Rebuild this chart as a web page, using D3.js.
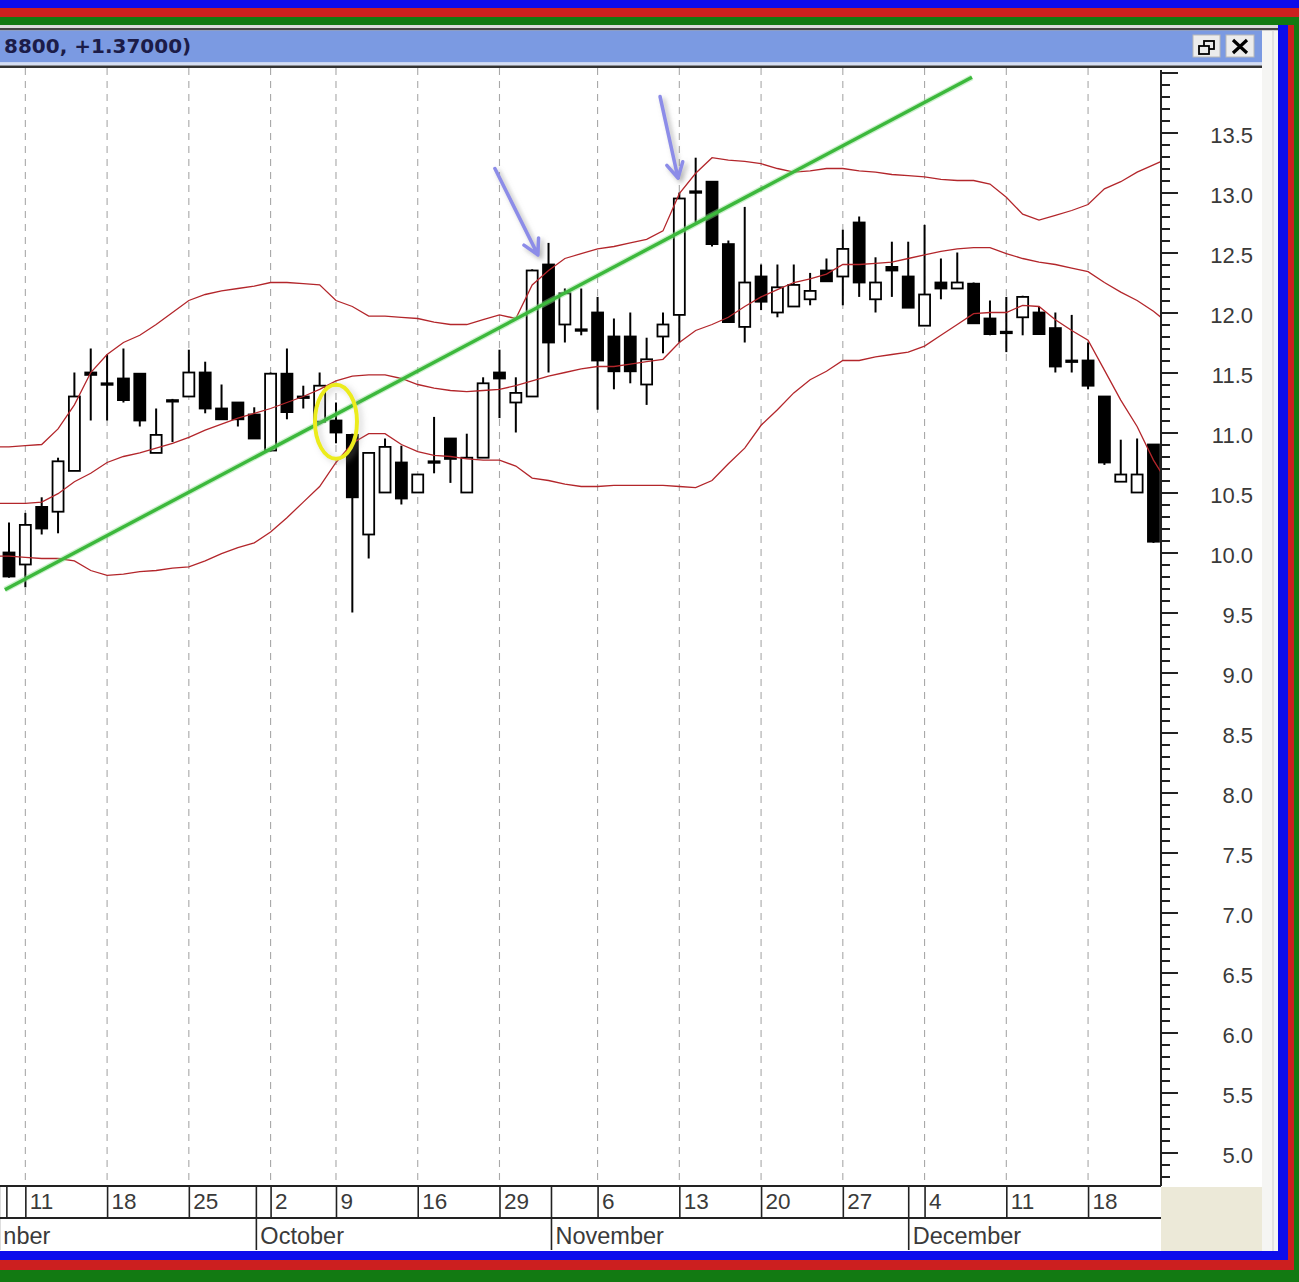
<!DOCTYPE html>
<html><head><meta charset="utf-8">
<script src="https://cdn.jsdelivr.net/npm/d3@7"></script>
<style>html,body{margin:0;padding:0;background:#fff;overflow:hidden}</style>
</head><body>
<svg id="c" width="1299" height="1282" xmlns="http://www.w3.org/2000/svg"></svg>
<script>
// ---------------- data ----------------
const opens  = [10.00,9.90,10.38,10.34,10.68,11.50,11.41,11.45,11.49,10.83,
  11.27,11.30,11.50,11.20,11.25,11.15,10.85,11.49,11.30,11.09,
  11.10,10.98,10.15,10.50,10.75,10.50,10.76,10.95,10.50,10.79,
  11.50,11.25,11.30,12.40,11.90,11.86,12.00,11.80,11.80,11.40,
  11.80,11.98,13.01,13.09,12.57,11.88,12.30,12.00,12.05,12.11,
  12.35,12.30,12.75,12.11,12.38,12.30,11.89,12.25,12.20,12.24,
  11.95,11.84,11.96,12.00,11.87,11.60,11.60,11.30,10.59,10.50,
  10.90];
const highs  = [10.25,10.33,10.46,10.79,11.50,11.70,11.65,11.70,11.49,11.20,
  11.28,11.69,11.59,11.40,11.25,11.21,11.50,11.70,11.39,11.50,
  11.25,10.99,10.83,10.95,10.89,10.65,11.13,10.95,10.99,11.46,
  11.69,11.46,12.36,12.58,12.20,12.20,12.13,11.95,12.00,11.79,
  12.00,13.00,13.29,13.09,12.60,12.88,12.40,12.40,12.40,12.33,
  12.45,12.69,12.80,12.46,12.59,12.59,12.73,12.45,12.50,12.25,
  12.10,12.13,12.14,12.05,12.00,11.98,11.75,11.30,10.94,10.95,
  10.90];
const lows   = [9.79,9.71,10.15,10.16,10.68,11.10,11.10,11.25,11.05,10.83,
  10.92,11.30,11.16,11.11,11.05,10.95,10.84,11.11,11.20,11.09,
  10.91,9.50,9.95,10.50,10.40,10.50,10.66,10.58,10.50,10.79,
  11.12,11.00,11.30,11.50,11.75,11.81,11.19,11.36,11.41,11.23,
  11.66,11.75,12.75,12.55,11.92,11.75,12.02,11.96,12.05,12.06,
  12.26,12.06,12.13,12.00,12.13,12.04,11.89,12.11,12.20,11.91,
  11.81,11.67,11.81,11.82,11.50,11.50,11.36,10.73,10.59,10.50,
  10.08];
const closes = [9.80,10.23,10.20,10.76,11.30,11.48,11.40,11.27,11.10,10.98,
  11.26,11.50,11.20,11.11,11.11,10.95,11.49,11.17,11.29,11.39,
  11.00,10.46,10.83,10.88,10.45,10.65,10.75,10.78,10.79,11.41,
  11.45,11.33,12.35,11.75,12.16,11.85,11.60,11.51,11.51,11.61,
  11.90,12.95,13.00,12.57,11.92,12.25,12.09,12.21,12.23,12.18,
  12.26,12.53,12.25,12.25,12.35,12.04,12.15,12.20,12.25,11.91,
  11.82,11.83,12.13,11.82,11.55,11.59,11.39,10.75,10.65,10.65,
  10.09];
// Bollinger bands, one value per bar, starting one bar before the first visible candle
const bandStartIndex = -1;
const upperBand = [10.88,
  10.88,10.89,10.90,11.03,11.23,11.50,11.65,11.75,11.81,11.90,
  12.00,12.10,12.15,12.18,12.20,12.22,12.25,12.25,12.24,12.23,
  12.10,12.05,11.97,11.97,11.96,11.95,11.92,11.90,11.90,11.94,
  11.98,11.95,12.23,12.35,12.45,12.49,12.53,12.55,12.58,12.61,
  12.68,12.99,13.16,13.29,13.27,13.26,13.24,13.20,13.17,13.18,
  13.20,13.20,13.18,13.17,13.15,13.14,13.13,13.11,13.10,13.10,
  13.07,12.96,12.82,12.77,12.81,12.85,12.90,13.03,13.09,13.17,
  13.23,13.29];
const middleBand = [10.41,
  10.41,10.41,10.42,10.49,10.59,10.66,10.75,10.80,10.83,10.87,
  10.91,10.96,11.02,11.07,11.12,11.16,11.20,11.25,11.30,11.36,
  11.43,11.47,11.48,11.48,11.45,11.40,11.37,11.35,11.34,11.35,
  11.36,11.39,11.43,11.47,11.50,11.53,11.55,11.55,11.57,11.59,
  11.61,11.75,11.85,11.90,11.96,12.05,12.13,12.19,12.25,12.28,
  12.32,12.40,12.40,12.41,12.42,12.45,12.48,12.51,12.53,12.54,
  12.54,12.49,12.45,12.42,12.40,12.37,12.34,12.25,12.17,12.10,
  12.01,11.90];
const lowerBand = [9.97,
  9.97,9.96,9.95,9.95,9.93,9.85,9.81,9.82,9.84,9.85,
  9.87,9.88,9.93,9.99,10.04,10.08,10.17,10.29,10.42,10.55,
  10.75,10.91,10.99,10.99,10.90,10.84,10.81,10.80,10.78,10.77,
  10.77,10.72,10.62,10.60,10.57,10.55,10.55,10.56,10.56,10.56,
  10.56,10.55,10.54,10.60,10.74,10.87,11.06,11.19,11.33,11.44,
  11.51,11.60,11.60,11.63,11.65,11.67,11.72,11.81,11.90,11.99,
  12.00,12.00,12.06,12.05,11.94,11.85,11.77,11.52,11.27,11.05,
  10.77,10.55];
// x axis: weekly ticks (bar index) and labels, month boundaries
const weekTickIndex  = [1,6,11,16,20,25,30,36,41,46,51,56,61,66];
const weekTickLabels = ["11","18","25","2","9","16","29","6","13","20","27","4","11","18"];
// first month label is the visible tail of "September", which begins off the left edge
const monthStartIndex = [-0.62,15.1,33.15,55.0];
const monthLabels = ["nber","October","November","December"];
// y axis labels
const yTickLabels = ["13.5","13.0","12.5","12.0","11.5","11.0","10.5","10.0","9.5","9.0","8.5","8.0","7.5","7.0","6.5","6.0","5.5","5.0"];
// annotations (bar index, price)
const trendLine = [{i:-0.25, v:9.69},{i:58.9, v:13.96}];
const circledBar = {i:20, v:11.09};
const arrows = [
  {from:{i:29.72, v:13.20}, to:{i:32.35, v:12.48}},
  {from:{i:39.82, v:13.80}, to:{i:40.92, v:13.12}}
];
const titleText = "8800, +1.37000)";

// ---------------- layout ----------------
const svg = d3.select("#c");
const plotL = 0, plotR = 1161, plotT = 68, plotB = 1186;
const x = d3.scaleLinear().domain([-0.55, 70.4]).range([0, 1160]);
const y = d3.scaleLinear().domain([13.5, 5.0]).range([132.5, 1152.5]);

const defs = svg.append("defs");
defs.append("clipPath").attr("id","plotClip").append("rect")
  .attr("x",plotL).attr("y",plotT).attr("width",plotR-plotL).attr("height",plotB-plotT);
const sh = defs.append("filter").attr("id","shadow").attr("x","-50%").attr("y","-50%").attr("width","200%").attr("height","200%");
sh.append("feDropShadow").attr("dx",3).attr("dy",3).attr("stdDeviation",2.5).attr("flood-color","#777").attr("flood-opacity",0.55);
const glow = defs.append("filter").attr("id","glow").attr("x","-50%").attr("y","-50%").attr("width","200%").attr("height","200%");
glow.append("feDropShadow").attr("dx",3).attr("dy",2).attr("stdDeviation",3).attr("flood-color","#999").attr("flood-opacity",0.45);

svg.append("rect").attr("width",1299).attr("height",1282).attr("fill","#ffffff");

// window chrome
svg.append("rect").attr("x",0).attr("y",25).attr("width",1278).attr("height",3).attr("fill","#dcdcdc");
svg.append("rect").attr("x",0).attr("y",28).attr("width",1278).attr("height",2.5).attr("fill","#444");
svg.append("rect").attr("x",0).attr("y",30.5).attr("width",1262).attr("height",32).attr("fill","#7b9ae2");
svg.append("rect").attr("x",0).attr("y",62.5).attr("width",1262).attr("height",3).attr("fill","#d4ddf3");
svg.append("rect").attr("x",0).attr("y",65.5).attr("width",1262).attr("height",2.5).attr("fill","#333");
svg.append("rect").attr("x",1262).attr("y",30.5).attr("width",16).attr("height",1221).attr("fill","#f5f5f3");
svg.append("line").attr("x1",1273).attr("x2",1273).attr("y1",30).attr("y2",1251).attr("stroke","#cfcfcf").attr("stroke-width",1);
svg.append("text").attr("x",4).attr("y",53).text(titleText)
  .attr("font-family","'DejaVu Sans', Verdana, sans-serif").attr("font-weight","bold")
  .attr("font-size",20).attr("fill","#1c1c48");
// restore & close buttons
svg.append("rect").attr("x",1193).attr("y",35).attr("width",27).attr("height",22).attr("fill","#ececec").attr("stroke","#b8b8b8");
svg.append("rect").attr("x",1204).attr("y",41).attr("width",10).attr("height",8).attr("fill","none").attr("stroke","#000").attr("stroke-width",1.8);
svg.append("rect").attr("x",1199).attr("y",46).attr("width",10).attr("height",8).attr("fill","#ececec").attr("stroke","#000").attr("stroke-width",1.8);
svg.append("rect").attr("x",1226).attr("y",35).attr("width",28).attr("height",22).attr("fill","#ececec").attr("stroke","#b8b8b8");
svg.append("path").attr("d","M1233,40 L1247,53 M1247,40 L1233,53").attr("stroke","#000").attr("stroke-width",3.2);

// bottom-right beige corner
svg.append("rect").attr("x",1161).attr("y",1187).attr("width",101).attr("height",64).attr("fill","#ece9d8");

// ---------------- plot ----------------
const plot = svg.append("g").attr("clip-path","url(#plotClip)");

// dashed vertical gridlines
plot.selectAll("line.grid").data(weekTickIndex).enter().append("line")
  .attr("x1",d=>x(d)).attr("x2",d=>x(d)).attr("y1",plotT).attr("y2",plotB)
  .attr("stroke","#a8a8a8").attr("stroke-width",1.1).attr("stroke-dasharray","7,6");

// candles
const bars = opens.map((o,i)=>({i, o, h:highs[i], l:lows[i], c:closes[i]}));
const cg = plot.append("g");
cg.selectAll("line.wick").data(bars).enter().append("line")
  .attr("x1",d=>x(d.i)).attr("x2",d=>x(d.i)).attr("y1",d=>y(d.h)).attr("y2",d=>y(d.l))
  .attr("stroke","#000").attr("stroke-width",2);
const bw = 11;
cg.selectAll("rect.body").data(bars).enter().append("rect")
  .attr("x",d=>x(d.i)-bw/2).attr("width",bw)
  .attr("y",d=>Math.min(y(d.o),y(d.c)))
  .attr("height",d=>Math.max(Math.abs(y(d.o)-y(d.c)),1.5))
  .attr("fill",d=>d.c<d.o?"#000":"#fff")
  .attr("stroke","#000").attr("stroke-width",1.8);

// bollinger bands
const bandLine = d3.line().x((d,k)=>x(bandStartIndex+k)).y(d=>y(d));
[upperBand, middleBand, lowerBand].forEach(b=>{
  plot.append("path").attr("d",bandLine(b)).attr("fill","none")
    .attr("stroke","#b3262b").attr("stroke-width",1.3);
});

// trend line
const tl = d3.line().x(d=>x(d.i)).y(d=>y(d.v));
plot.append("path").attr("d",tl(trendLine)).attr("stroke","#8fe08f").attr("stroke-width",6).attr("opacity",0.45).attr("fill","none");
plot.append("path").attr("d",tl(trendLine)).attr("stroke","#3cb83c").attr("stroke-width",3.4).attr("fill","none");

// highlight ellipse
plot.append("ellipse").attr("cx",x(circledBar.i)).attr("cy",y(circledBar.v))
  .attr("rx",21).attr("ry",37).attr("fill","none")
  .attr("stroke","#ecec1c").attr("stroke-width",4).attr("filter","url(#glow)");

// arrows
arrows.forEach(a=>{
  const x1=x(a.from.i), y1=y(a.from.v), x2=x(a.to.i), y2=y(a.to.v);
  const ang = Math.atan2(y2-y1, x2-x1), L = 17, sp = 0.5;
  const bx1 = x2 - L*Math.cos(ang-sp), by1 = y2 - L*Math.sin(ang-sp);
  const bx2 = x2 - L*Math.cos(ang+sp), by2 = y2 - L*Math.sin(ang+sp);
  plot.append("path")
    .attr("d",`M${x1},${y1} L${x2},${y2} M${bx1},${by1} L${x2},${y2} L${bx2},${by2}`)
    .attr("fill","none").attr("stroke","#8c8ce8").attr("stroke-width",3.5)
    .attr("stroke-linecap","round").attr("stroke-linejoin","round").attr("filter","url(#shadow)");
});

// ---------------- y axis ----------------
const minorTicks = d3.range(48, 141).map(d=>d/10);
const majorTicks = yTickLabels.map(Number).concat([14.0]);
const gyMinor = svg.append("g").attr("transform",`translate(${plotR},0)`)
  .call(d3.axisRight(y).tickValues(minorTicks).tickSize(9).tickFormat(""));
gyMinor.select(".domain").remove();
gyMinor.selectAll(".tick line").attr("stroke","#222").attr("stroke-width",2);
const gyMajor = svg.append("g").attr("transform",`translate(${plotR},0)`)
  .call(d3.axisRight(y).tickValues(majorTicks).tickSize(17)
    .tickFormat(d=>{const k=yTickLabels.indexOf(d.toFixed(1));return k>=0?yTickLabels[k]:"";}));
gyMajor.select(".domain").remove();
gyMajor.selectAll(".tick line").attr("stroke","#222").attr("stroke-width",2);
gyMajor.selectAll(".tick text").attr("text-anchor","end").attr("x",92).attr("y",3)
  .attr("font-family","'Liberation Sans', Arial, sans-serif").attr("font-size",22).attr("fill","#3a3a3a");
svg.append("line").attr("x1",plotR).attr("x2",plotR).attr("y1",70).attr("y2",plotB)
  .attr("stroke","#222").attr("stroke-width",2);

// ---------------- x axis ----------------
svg.append("line").attr("x1",0).attr("x2",plotR).attr("y1",plotB).attr("y2",plotB).attr("stroke","#222").attr("stroke-width",2);
svg.append("line").attr("x1",0).attr("x2",plotR).attr("y1",1218).attr("y2",1218).attr("stroke","#222").attr("stroke-width",2);
svg.append("line").attr("x1",x(-0.13)).attr("x2",x(-0.13)).attr("y1",plotB).attr("y2",1218).attr("stroke","#222").attr("stroke-width",1.6);

const gDay = svg.append("g").attr("transform",`translate(0,${plotB})`)
  .call(d3.axisBottom(x).tickValues(weekTickIndex).tickSize(32).tickSizeOuter(0)
    .tickFormat((d,k)=>weekTickLabels[k]));
gDay.select(".domain").remove();
gDay.selectAll(".tick line").attr("stroke","#222").attr("stroke-width",1.6);
gDay.selectAll(".tick text").attr("text-anchor","start").attr("x",4).attr("y",7).attr("dy","0.72em")
  .attr("font-family","'Liberation Sans', Arial, sans-serif").attr("font-size",22.5).attr("fill","#3a3a3a");

const gMonth = svg.append("g").attr("transform",`translate(0,${plotB})`)
  .call(d3.axisBottom(x).tickValues(monthStartIndex).tickSize(64).tickSizeOuter(0)
    .tickFormat((d,k)=>monthLabels[k]));
gMonth.select(".domain").remove();
gMonth.selectAll(".tick line").attr("stroke","#222").attr("stroke-width",1.6);
gMonth.selectAll(".tick text").attr("text-anchor","start").attr("x",4).attr("y",41).attr("dy","0.72em")
  .attr("font-family","'Liberation Sans', Arial, sans-serif").attr("font-size",23.5).attr("fill","#3a3a3a");

// ---------------- outer coloured frame ----------------
const frame = [
  [0,1270,1299,12,"#127a12"],[1294,17,5,1265,"#127a12"],
  [0,1260,1294,10,"#cc1f1f"],[1288,8,6,1262,"#cc1f1f"],
  [0,1251,1288,9,"#0c0cec"],[1278,25,10,1235,"#0c0cec"],
  [0,0,1299,8,"#0c0cec"],[0,8,1299,9,"#cc1f1f"],[0,17,1294,8,"#127a12"]
];
frame.forEach(f=>svg.append("rect").attr("x",f[0]).attr("y",f[1]).attr("width",f[2]).attr("height",f[3]).attr("fill",f[4]));
</script>
</body></html>
